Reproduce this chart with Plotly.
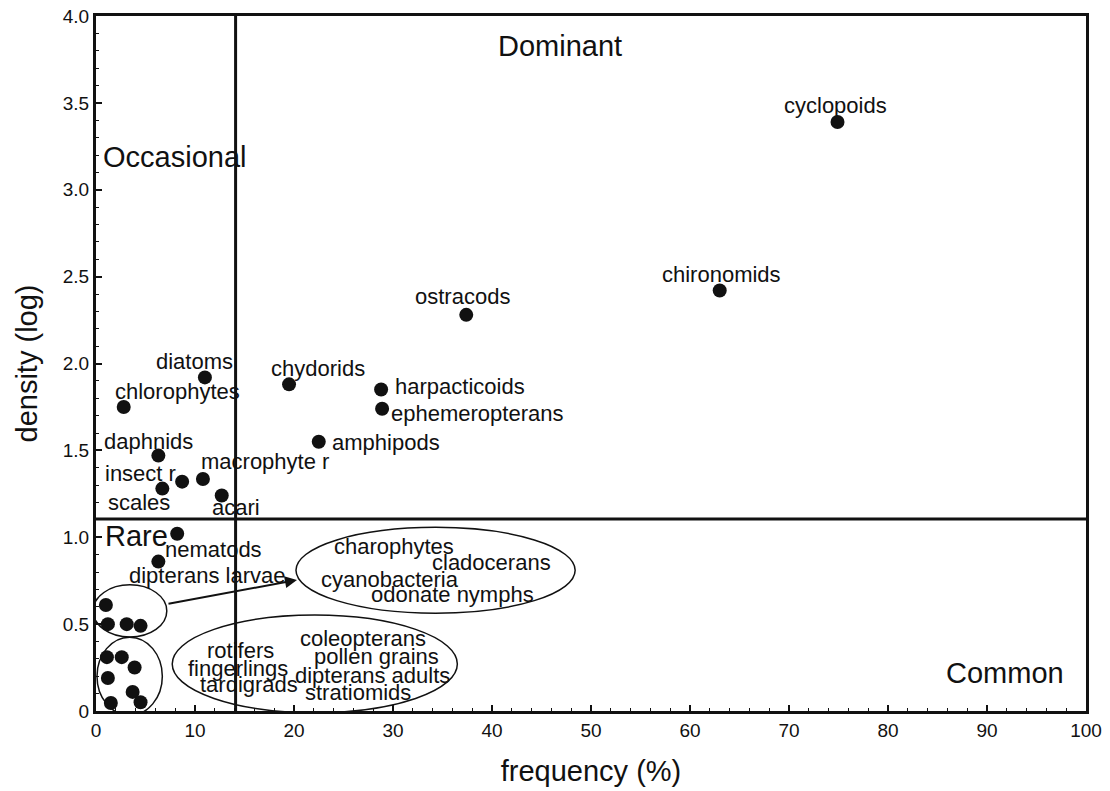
import plotly.graph_objects as go

# ---- data ----
taxa = ["cyclopoids", "chironomids", "ostracods", "chydorids", "harpacticoids",
        "ephemeropterans", "amphipods", "diatoms", "chlorophytes", "daphnids",
        "insect r", "macrophyte r", "scales", "acari", "nematods", "dipterans larvae"]
freq = [74.9, 63.0, 37.4, 19.5, 28.8, 28.9, 22.5, 11.0, 2.8, 6.3,
        8.7, 10.8, 6.7, 12.7, 8.2, 6.3]
dens = [3.39, 2.42, 2.28, 1.88, 1.85, 1.74, 1.55, 1.92, 1.75, 1.47,
        1.32, 1.335, 1.28, 1.24, 1.02, 0.86]

# unlabelled points grouped in ellipses
group1_freq = [1.0, 1.2, 3.1, 4.5]
group1_dens = [0.61, 0.50, 0.50, 0.49]
group2_freq = [1.1, 2.6, 3.9, 1.2, 3.7, 1.5, 4.5]
group2_dens = [0.31, 0.31, 0.25, 0.19, 0.11, 0.046, 0.05]

group1_taxa = ["charophytes", "cladocerans", "cyanobacteria", "odonate nymphs"]
group2_taxa_left = ["rotifers", "fingerlings", "tardigrads"]
group2_taxa_right = ["coleopterans", "pollen grains", "dipterans adults", "stratiomids"]

freq_threshold = 14.1
dens_threshold = 1.105

x_ticks = [0, 10, 20, 30, 40, 50, 60, 70, 80, 90, 100]
y_ticks = [0, 0.5, 1.0, 1.5, 2.0, 2.5, 3.0, 3.5, 4.0]
y_ticktext = ["0", "0.5", "1.0", "1.5", "2.0", "2.5", "3.0", "3.5", "4.0"]

# ---- styling / layout ----
FONT = "Liberation Sans, Arial, sans-serif"
LBL = 22
# label offsets in pixels (xshift, yshift, xanchor)
offsets = {
    "cyclopoids": (-2, 16, "center"),
    "chironomids": (2, 16, "center"),
    "ostracods": (-4, 18, "center"),
    "chydorids": (29, 16, "center"),
    "harpacticoids": (12, 3, "left"),
    "ephemeropterans": (7, -5, "left"),
    "amphipods": (11, -1, "left"),
    "diatoms": (-10, 16, "center"),
    "chlorophytes": (54, 15, "center"),
    "daphnids": (-10, 14, "center"),
    "insect r": (-42, 8, "center"),
    "macrophyte r": (62, 18, "center"),
    "scales": (-23, -14, "center"),
    "acari": (14, -12, "center"),
    "nematods": (36, -16, "center"),
    "dipterans larvae": (49, -14, "center"),
}

fig = go.Figure()
mk = dict(size=14, color="#111111")
fig.add_trace(go.Scatter(x=freq, y=dens, mode="markers", marker=mk, showlegend=False))
fig.add_trace(go.Scatter(x=group1_freq, y=group1_dens, mode="markers", marker=mk, showlegend=False))
fig.add_trace(go.Scatter(x=group2_freq, y=group2_dens, mode="markers", marker=mk, showlegend=False))

ann = []
for name, xv, yv in zip(taxa, freq, dens):
    dx, dy, xa = offsets[name]
    ann.append(dict(x=xv, y=yv, text=name, showarrow=False, xshift=dx, yshift=dy,
                    xanchor=xa, yanchor="middle", font=dict(size=LBL, color="#111")))

g1_pos = [(30.1, 0.944), (39.9, 0.852), (29.7, 0.754), (36.0, 0.673)]
for t, (xv, yv) in zip(group1_taxa, g1_pos):
    ann.append(dict(x=xv, y=yv, text=t, showarrow=False, font=dict(size=LBL, color="#111")))
g2l_pos = [(14.6, 0.351), (14.3, 0.247), (15.5, 0.15)]
for t, (xv, yv) in zip(group2_taxa_left, g2l_pos):
    ann.append(dict(x=xv, y=yv, text=t, showarrow=False, font=dict(size=LBL, color="#111")))
g2r_pos = [(27.0, 0.42), (28.3, 0.311), (27.9, 0.207), (26.5, 0.104)]
for t, (xv, yv) in zip(group2_taxa_right, g2r_pos):
    ann.append(dict(x=xv, y=yv, text=t, showarrow=False, font=dict(size=LBL, color="#111")))

# quadrant labels
ann += [
    dict(x=46.9, y=3.83, text="Dominant", showarrow=False, font=dict(size=29, color="#111")),
    dict(x=0.5, y=3.19, text="Occasional", showarrow=False, xanchor="left", font=dict(size=29, color="#111")),
    dict(x=0.7, y=1.005, text="Rare", showarrow=False, xanchor="left", font=dict(size=29, color="#111")),
    dict(x=98.0, y=0.22, text="Common", showarrow=False, xanchor="right", font=dict(size=29, color="#111")),
]
# arrow from small ellipse to the big one
ann.append(dict(x=20.3, y=0.754, ax=7.17, ay=0.616, axref="x", ayref="y", xref="x", yref="y",
                text="", showarrow=True, arrowhead=2, arrowsize=1.2, arrowwidth=2, arrowcolor="#111"))

shapes = [
    dict(type="line", x0=freq_threshold, x1=freq_threshold, y0=0, y1=4, xref="x", yref="y",
         line=dict(color="#111", width=3)),
    dict(type="line", x0=0, x1=100, y0=dens_threshold, y1=dens_threshold, xref="x", yref="y",
         line=dict(color="#111", width=3)),
    dict(type="circle", x0=-0.3, x1=7.15, y0=0.426, y1=0.726, xref="x", yref="y",
         line=dict(color="#111", width=1.5)),
    dict(type="circle", x0=0.1, x1=6.7, y0=-0.025, y1=0.425, xref="x", yref="y",
         line=dict(color="#111", width=1.5)),
    dict(type="circle", x0=7.7, x1=36.5, y0=-0.01, y1=0.552, xref="x", yref="y",
         line=dict(color="#111", width=1.5)),
    dict(type="circle", x0=20.2, x1=48.4, y0=0.563, y1=1.057, xref="x", yref="y",
         line=dict(color="#111", width=1.5)),
]

axis_common = dict(showgrid=False, zeroline=False, showline=True, mirror=True,
                   linecolor="#111", linewidth=3, ticks="inside", tickcolor="#111",
                   tickwidth=1.5, ticklen=6, tickfont=dict(size=19, color="#111"),
                   automargin=False, ticklabeloverflow="allow")

fig.update_layout(
    width=1110, height=791,
    margin=dict(l=96, r=24, t=16, b=80),
    paper_bgcolor="white", plot_bgcolor="white",
    font=dict(family=FONT, color="#111"),
    annotations=ann, shapes=shapes,
    xaxis=dict(range=[0, 100], tickvals=x_ticks,
               minor=dict(dtick=2, ticks="inside", ticklen=3, tickcolor="#111", tickwidth=1),
               title=dict(text="frequency (%)", font=dict(size=29, color="#111"), standoff=21),
               **axis_common),
    yaxis=dict(range=[0, 4], tickvals=y_ticks, ticktext=y_ticktext,
               minor=dict(dtick=0.1, ticks="inside", ticklen=3, tickcolor="#111", tickwidth=1),
               title=dict(text="density (log)", font=dict(size=29, color="#111"), standoff=17),
               **axis_common),
)

# remove the default page margin so the figure fills the window exactly
fig.write_html("out.html", post_script="document.body.style.margin='0';",
               config={"displayModeBar": False})
